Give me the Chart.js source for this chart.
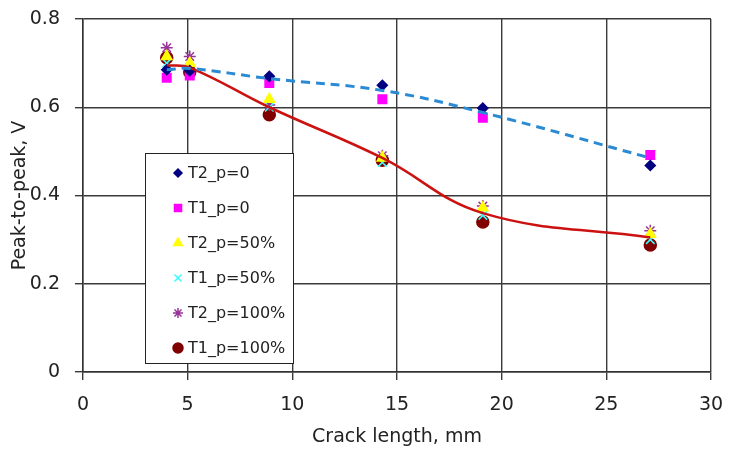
<!DOCTYPE html>
<html>
<head>
<meta charset="utf-8">
<script src="https://cdn.jsdelivr.net/npm/chart.js@4/dist/chart.umd.min.js"></script>
<style>
  html, body { margin: 0; padding: 0; background: #fff; }
  #wrap { width: 729px; height: 450px; }
</style>
</head>
<body>
<div id="wrap"><canvas id="crackChart" width="729" height="450"></canvas></div>
<script>
// crack length, mm
const crackLength = [4.0, 5.1, 8.9, 14.3, 19.1, 27.1];

// peak-to-peak, V
const t2_p0   = [0.685, 0.683, 0.670, 0.650, 0.598, 0.468];
const t1_p0   = [0.667, 0.672, 0.655, 0.618, 0.576, 0.492];
const t2_p50  = [0.715, 0.700, 0.618, 0.485, 0.372, 0.312];
const t1_p50  = [0.700, 0.690, 0.600, 0.475, 0.355, 0.300];
const t2_p100 = [0.735, 0.715, 0.605, 0.490, 0.376, 0.320];
const t1_p100 = [0.712, 0.680, 0.583, 0.480, 0.340, 0.288];

// smoothed trend lines
const trend_p0   = [0.685, 0.688, 0.665, 0.638, 0.588, 0.485];
const trend_p100 = [0.695, 0.690, 0.600, 0.485, 0.360, 0.305];

const yTicks = [0, 0.2, 0.4, 0.6, 0.8];

function pts(vals) {
  return vals.map((v, i) => ({ x: crackLength[i], y: v }));
}

const markerSeries = [
  { label: 'T2_p=0',    data: t2_p0,   style: 'rectRot',  color: '#000080', r: 5 },
  { label: 'T1_p=0',    data: t1_p0,   style: 'rect',     color: '#FF00FF', r: 6 },
  { label: 'T2_p=50%',  data: t2_p50,  style: 'triangle', color: '#FFFF00', r: 6 },
  { label: 'T1_p=50%',  data: t1_p50,  style: 'crossRot', color: '#33FFFF', r: 6 },
  { label: 'T2_p=100%', data: t2_p100, style: 'star',     color: '#993399', r: 6 },
  { label: 'T1_p=100%', data: t1_p100, style: 'circle',   color: '#800000', r: 6 }
];

const datasets = markerSeries.map(s => ({
  label: s.label,
  data: pts(s.data),
  pointStyle: s.style,
  pointRadius: s.r,
  pointBackgroundColor: s.color,
  pointBorderColor: s.color,
  pointBorderWidth: 1.5,
  showLine: false,
  order: 2
}));

datasets.push({
  label: 'trend p=0',
  data: pts(trend_p0),
  showLine: true,
  borderColor: '#2A8AD4',
  borderWidth: 3,
  borderDash: [9, 6],
  tension: 0.4,
  pointRadius: 0,
  order: 1
});
datasets.push({
  label: 'trend p=100',
  data: pts(trend_p100),
  showLine: true,
  borderColor: '#CC1111',
  borderWidth: 2.5,
  tension: 0.4,
  pointRadius: 0,
  order: 1
});

const fontFamily = '"DejaVu Sans", sans-serif';

// legend box drawn inside the plot, like the original
const boxLegend = {
  id: 'boxLegend',
  afterDraw(chart) {
    const ctx = chart.ctx;
    const x0 = 145, y0 = 153, w = 148, h = 210;
    ctx.save();
    ctx.fillStyle = '#fff';
    ctx.fillRect(x0, y0, w, h);
    ctx.strokeStyle = '#222';
    ctx.lineWidth = 1;
    ctx.strokeRect(x0 + 0.5, y0 + 0.5, w, h);
    ctx.font = '16px ' + fontFamily;
    ctx.textBaseline = 'middle';
    markerSeries.forEach((s, i) => {
      const cy = y0 + 20 + i * 35;
      ctx.fillStyle = s.color;
      ctx.strokeStyle = s.color;
      ctx.lineWidth = 1.5;
      Chart.helpers.drawPoint(ctx, { pointStyle: s.style, radius: s.r - 1, borderWidth: 1.5 }, x0 + 33, cy);
      ctx.fillStyle = '#222';
      ctx.fillText(s.label, x0 + 43, cy + 1);
    });
    ctx.restore();
  }
};

const tickFont = { family: fontFamily, size: 19 };

new Chart(document.getElementById('crackChart'), {
  type: 'scatter',
  data: { datasets: datasets },
  options: {
    responsive: false,
    animation: false,
    layout: { padding: { top: 19, right: 18, left: 4, bottom: 0 } },
    plugins: { legend: { display: false }, tooltip: { enabled: false } },
    scales: {
      x: {
        min: 0, max: 30,
        ticks: { stepSize: 5, color: '#222', font: tickFont, padding: 14 },
        grid: { color: '#3a3a3a', lineWidth: 1.4, tickLength: 8 },
        border: { color: '#333', width: 1.5 },
        title: { display: true, text: 'Crack length, mm', color: '#222', font: tickFont, padding: { top: 0, bottom: 2 } },
        afterFit(scale) { scale.height = 78; scale.paddingLeft = 0; scale.paddingRight = 0; }
      },
      y: {
        min: 0, max: 0.8,
        afterBuildTicks(scale) { scale.ticks = yTicks.map(v => ({ value: v })); },
        ticks: { color: '#222', font: tickFont, padding: 15, callback: v => String(v) },
        grid: { color: '#3a3a3a', lineWidth: 1.4, tickLength: 8 },
        border: { color: '#333', width: 1.5 },
        title: { display: true, text: 'Peak-to-peak, V', color: '#222', font: tickFont, padding: { top: 5, bottom: 0 } },
        afterFit(scale) { scale.width = 79; scale.paddingTop = 0; scale.paddingBottom = 0; }
      }
    }
  },
  plugins: [boxLegend]
});
</script>
</body>
</html>
